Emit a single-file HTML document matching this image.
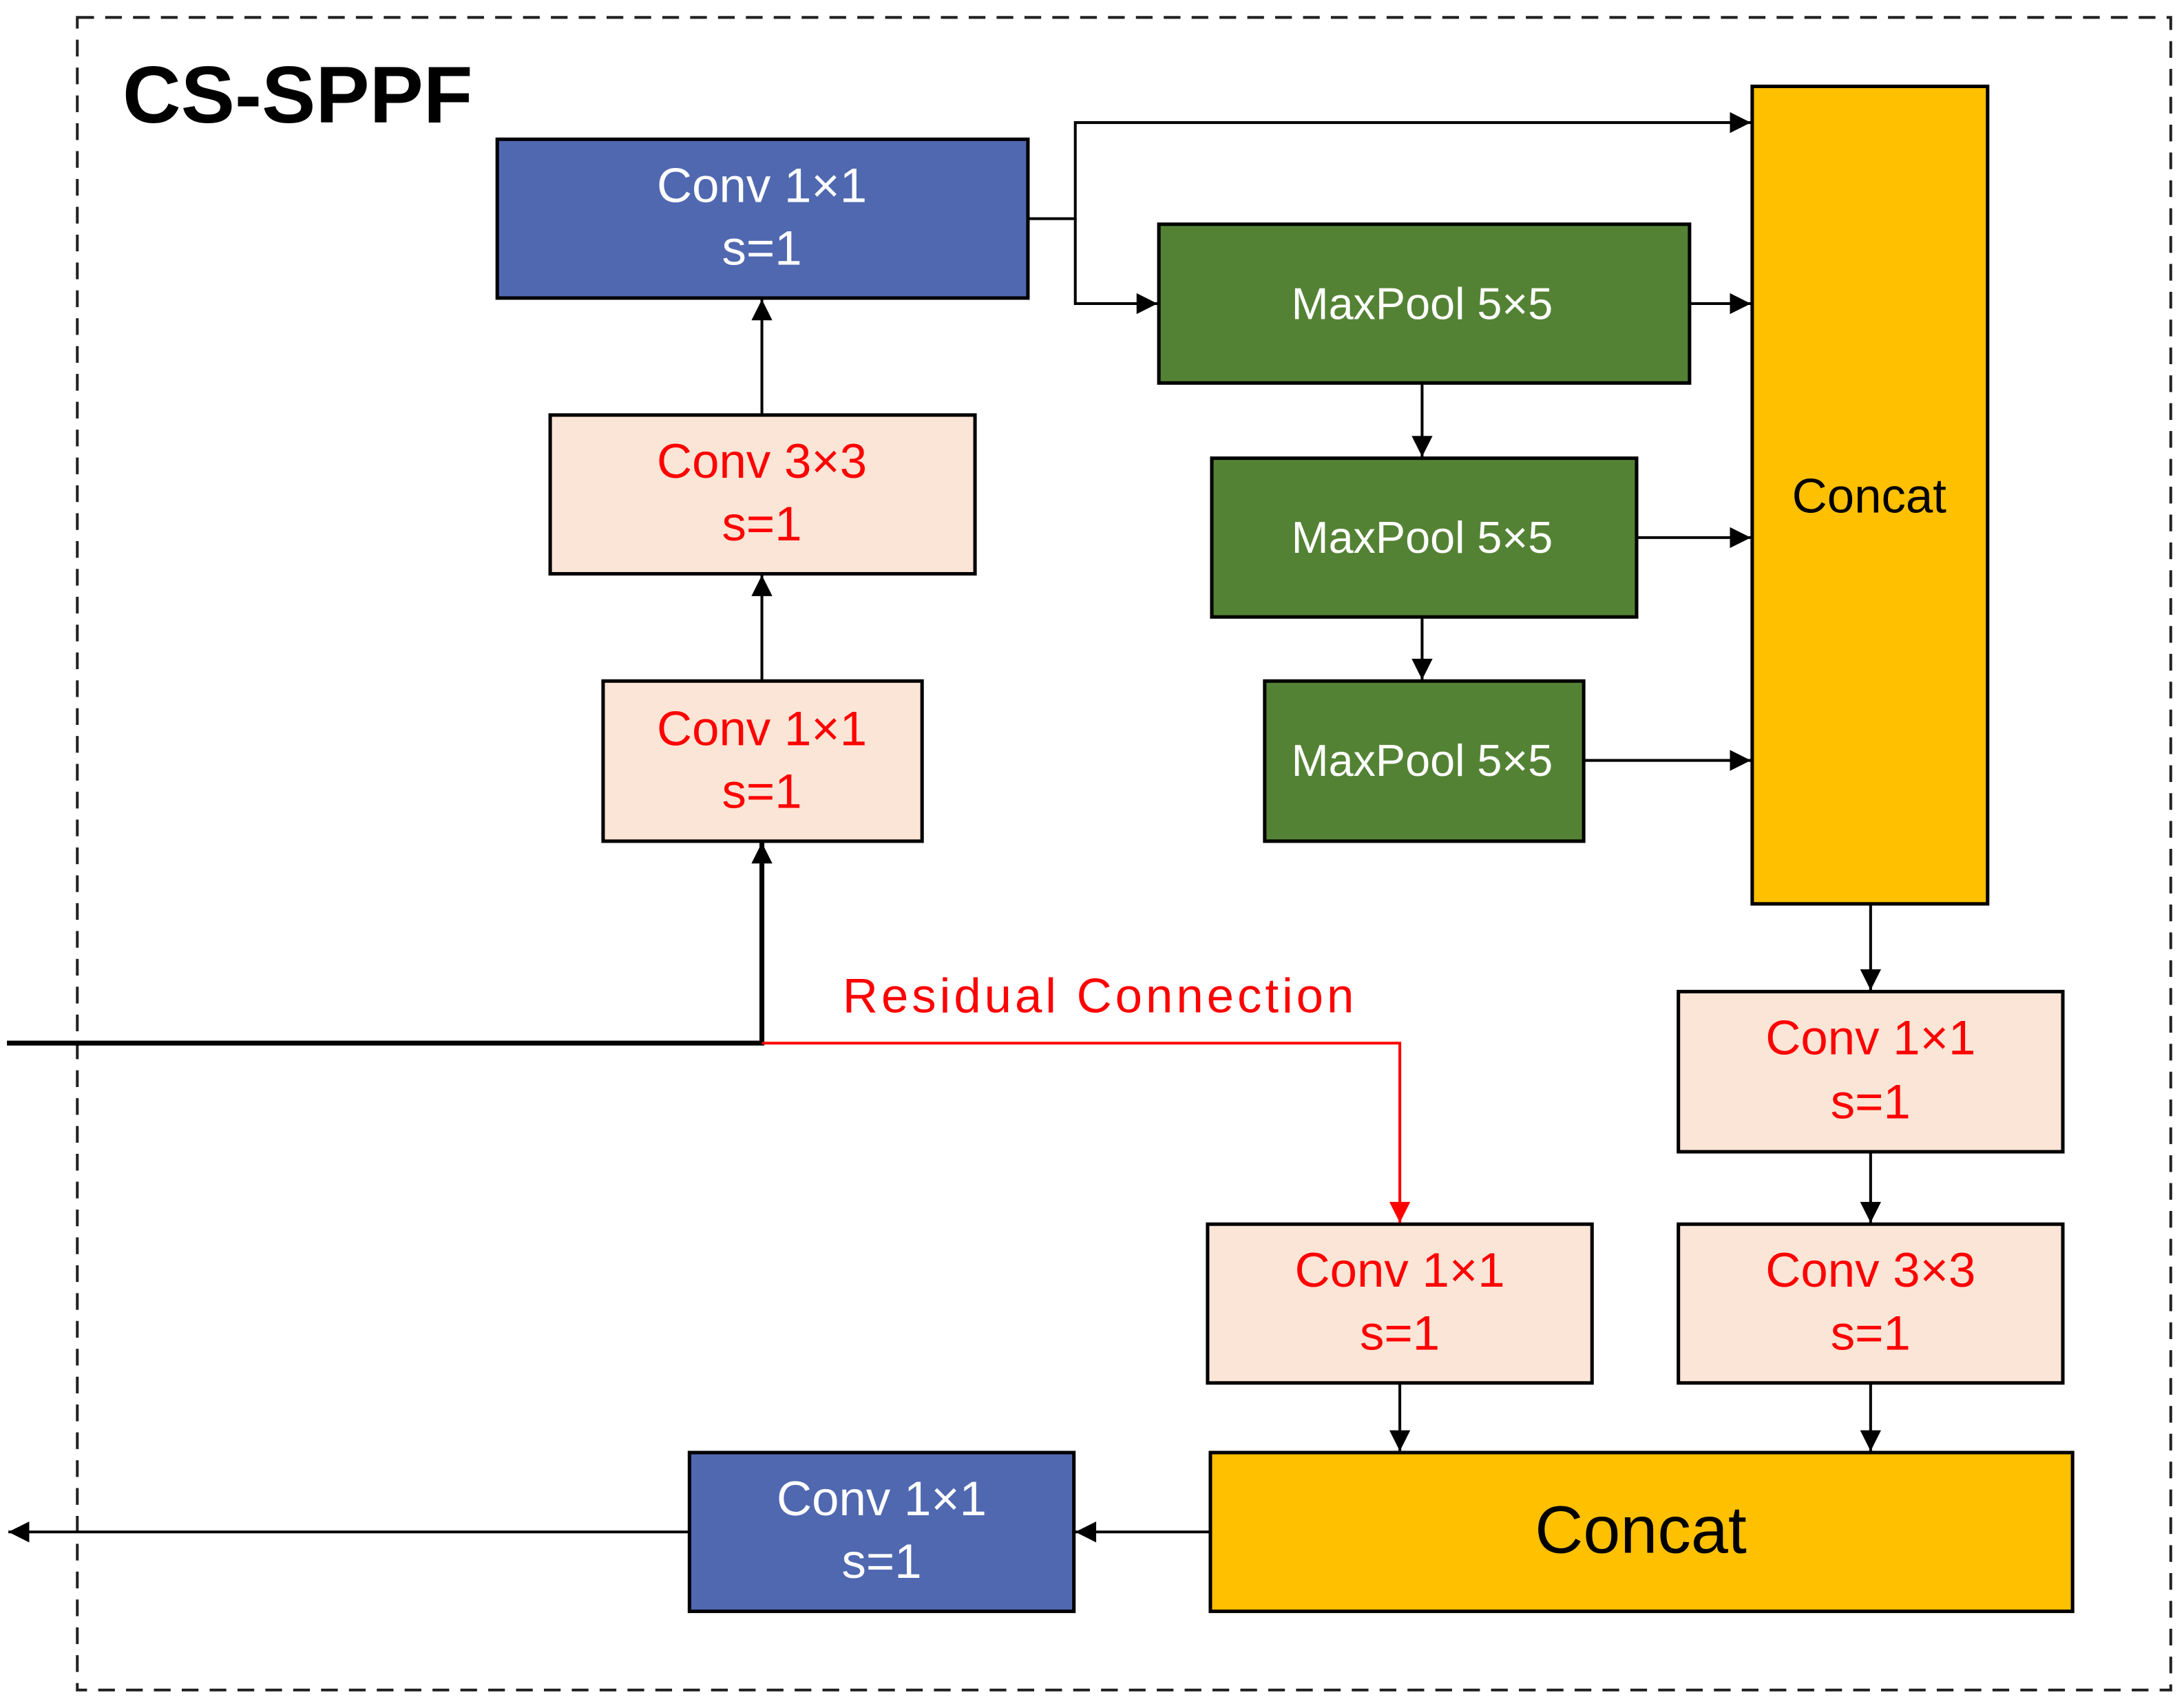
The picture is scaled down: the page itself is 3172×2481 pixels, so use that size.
<!DOCTYPE html>
<html><head><meta charset="utf-8"><style>
html,body{margin:0;padding:0;background:#fff;}
svg{display:block;}
text{font-family:"Liberation Sans",sans-serif;}
</style></head><body>
<svg width="3172" height="2481" viewBox="0 0 1568 1226.4" xmlns="http://www.w3.org/2000/svg">
<defs>
<marker id="a" viewBox="0 0 10 10" refX="10" refY="5" markerWidth="17" markerHeight="15" markerUnits="userSpaceOnUse" orient="auto"><path d="M0,0L10,5L0,10z" fill="#000"/></marker>
<marker id="r" viewBox="0 0 10 10" refX="10" refY="5" markerWidth="17" markerHeight="15" markerUnits="userSpaceOnUse" orient="auto"><path d="M0,0L10,5L0,10z" fill="#f00"/></marker>
</defs>
<rect x="55.5" y="12.5" width="1503" height="1201" fill="none" stroke="#222" stroke-width="2" stroke-dasharray="12,8"/>
<text x="88" y="88" font-size="58" font-weight="bold" fill="#000">CS-SPPF</text>

<g stroke="#000" stroke-width="2.5">
<rect x="357" y="100" width="381" height="114" fill="#5068b0"/>
<rect x="395" y="298" width="305" height="114" fill="#fbe5d6"/>
<rect x="433" y="489" width="229" height="115" fill="#fbe5d6"/>
<rect x="832" y="161" width="381" height="114" fill="#548235"/>
<rect x="870" y="329" width="305" height="114" fill="#548235"/>
<rect x="908" y="489" width="229" height="115" fill="#548235"/>
<rect x="1258" y="62" width="169" height="587" fill="#ffc000"/>
<rect x="1205" y="712" width="276" height="115" fill="#fbe5d6"/>
<rect x="1205" y="879" width="276" height="114" fill="#fbe5d6"/>
<rect x="867" y="879" width="276" height="114" fill="#fbe5d6"/>
<rect x="869" y="1043" width="619" height="114" fill="#ffc000"/>
<rect x="495" y="1043" width="276" height="114" fill="#5068b0"/>
</g>

<g font-size="35" text-anchor="middle">
<text x="547" y="145" fill="#fff">Conv 1×1</text><text x="547" y="190" fill="#fff">s=1</text>
<text x="547" y="343" fill="#f00">Conv 3×3</text><text x="547" y="388" fill="#f00">s=1</text>
<text x="547" y="535" fill="#f00">Conv 1×1</text><text x="547" y="580" fill="#f00">s=1</text>
<text x="1021" y="229" fill="#fff" font-size="32">MaxPool 5×5</text>
<text x="1021" y="397" fill="#fff" font-size="32">MaxPool 5×5</text>
<text x="1021" y="557" fill="#fff" font-size="32">MaxPool 5×5</text>
<text x="1342" y="368" fill="#000">Concat</text>
<text x="1343" y="757" fill="#f00">Conv 1×1</text><text x="1343" y="803" fill="#f00">s=1</text>
<text x="1343" y="924" fill="#f00">Conv 3×3</text><text x="1343" y="969" fill="#f00">s=1</text>
<text x="1005" y="924" fill="#f00">Conv 1×1</text><text x="1005" y="969" fill="#f00">s=1</text>
<text x="1178" y="1115" fill="#000" font-size="48">Concat</text>
<text x="633" y="1088" fill="#fff">Conv 1×1</text><text x="633" y="1133" fill="#fff">s=1</text>
</g>
<text x="605" y="727" font-size="35" fill="#f00" textLength="367">Residual Connection</text>

<g stroke="#000" stroke-width="2" fill="none">
<path d="M738,157H772V88H1257" marker-end="url(#a)"/>
<path d="M772,157V218H831" marker-end="url(#a)"/>
<path d="M1213,218H1257" marker-end="url(#a)"/>
<path d="M1175,386H1257" marker-end="url(#a)"/>
<path d="M1137,546H1257" marker-end="url(#a)"/>
<path d="M1021,275V328" marker-end="url(#a)"/>
<path d="M1021,443V488" marker-end="url(#a)"/>
<path d="M547,298V215" marker-end="url(#a)"/>
<path d="M547,489V413" marker-end="url(#a)"/>
<path d="M1343,649V711" marker-end="url(#a)"/>
<path d="M1343,827V878" marker-end="url(#a)"/>
<path d="M1343,993V1042" marker-end="url(#a)"/>
<path d="M1005,993V1042" marker-end="url(#a)"/>
<path d="M869,1100H772" marker-end="url(#a)"/>
<path d="M495,1100H6" marker-end="url(#a)"/>
<path d="M5,749H547V605" stroke-width="3.5" marker-end="url(#a)"/>
</g>
<path d="M547,749H1005V878" stroke="#f00" stroke-width="2" fill="none" marker-end="url(#r)"/>
</svg>
</body></html>
